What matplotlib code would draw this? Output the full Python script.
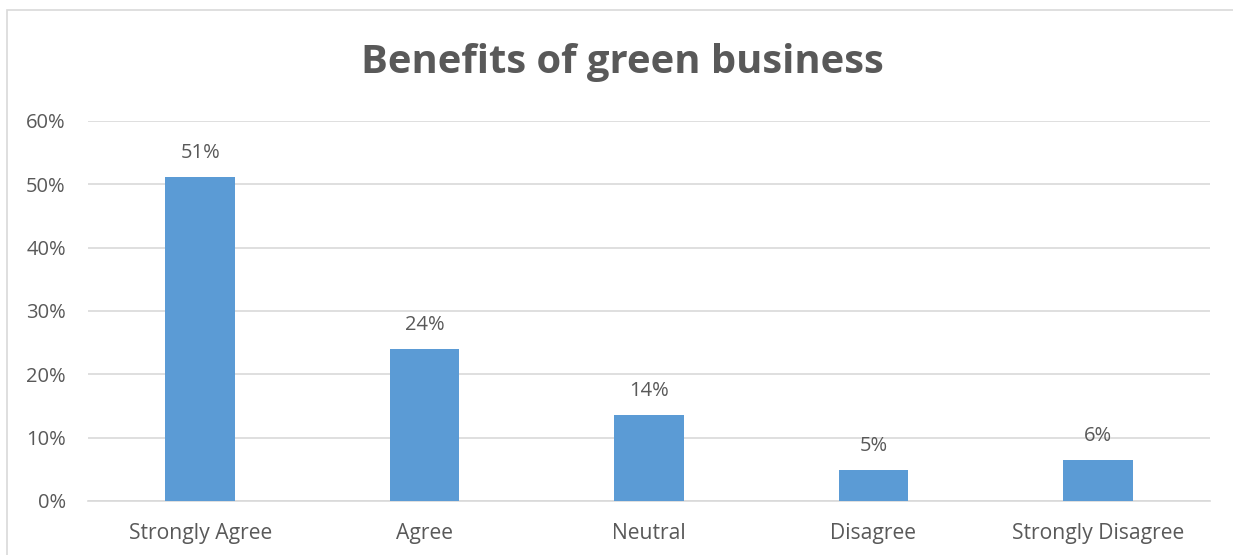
import matplotlib
matplotlib.use("Agg")
import matplotlib.pyplot as plt
from matplotlib.patches import Rectangle
from matplotlib.ticker import FuncFormatter

# chart data
categories = ["Strongly Agree", "Agree", "Neutral", "Disagree", "Strongly Disagree"]
values = [0.512, 0.240, 0.136, 0.049, 0.065]
labels = ["51%", "24%", "14%", "5%", "6%"]
title = "Benefits of green business"

bar_color = "#5B9BD5"
text_color = "#595959"
grid_color = "#D9D9D9"

plt.rcParams["font.family"] = ["Open Sans", "DejaVu Sans"]

W, H = 1233, 555
fig = plt.figure(figsize=(W / 100, H / 100), dpi=100)
fig.patch.set_facecolor("white")

# outer chart border (left and top visible only)
fig.patches.append(Rectangle((7 / W, -0.1), 1.2, (H - 10) / H + 0.1,
                             transform=fig.transFigure, fill=False,
                             edgecolor=grid_color, linewidth=1.2))

ax = fig.add_axes([88 / W, 1 - 501 / H, (1210 - 88) / W, (501 - 121) / H])
x = range(len(categories))
ax.bar(x, values, width=0.31, color=bar_color, zorder=3)

for xi, v, lab in zip(x, values, labels):
    ax.annotate(lab, (xi, v), xytext=(0, 10), textcoords="offset points",
                ha="center", va="bottom", fontsize=14.5,
                color=text_color, zorder=4)

ax.set_xlim(-0.5, len(categories) - 0.5)
ax.set_ylim(0, 0.6)
ax.set_yticks([0, 0.1, 0.2, 0.3, 0.4, 0.5, 0.6])
ax.yaxis.set_major_formatter(FuncFormatter(lambda v, p: f"{v * 100:.0f}%"))
ax.set_xticks(list(x))
ax.set_xticklabels(categories)
ax.tick_params(axis="both", length=0, labelsize=14.5, colors=text_color)
ax.tick_params(axis="x", labelsize=15.2, pad=16)
ax.tick_params(axis="y", pad=16)

ax.grid(axis="y", color=grid_color, linewidth=1.2, zorder=0)
for side in ["top", "right", "left"]:
    ax.spines[side].set_visible(False)
ax.spines["bottom"].set_color(grid_color)
ax.spines["bottom"].set_linewidth(1.2)

fig.text(622 / W, 1 - 63 / H, title, ha="center", va="center",
         fontsize=28.8, fontweight="bold", color=text_color)

fig.savefig("out.png", dpi=100)
